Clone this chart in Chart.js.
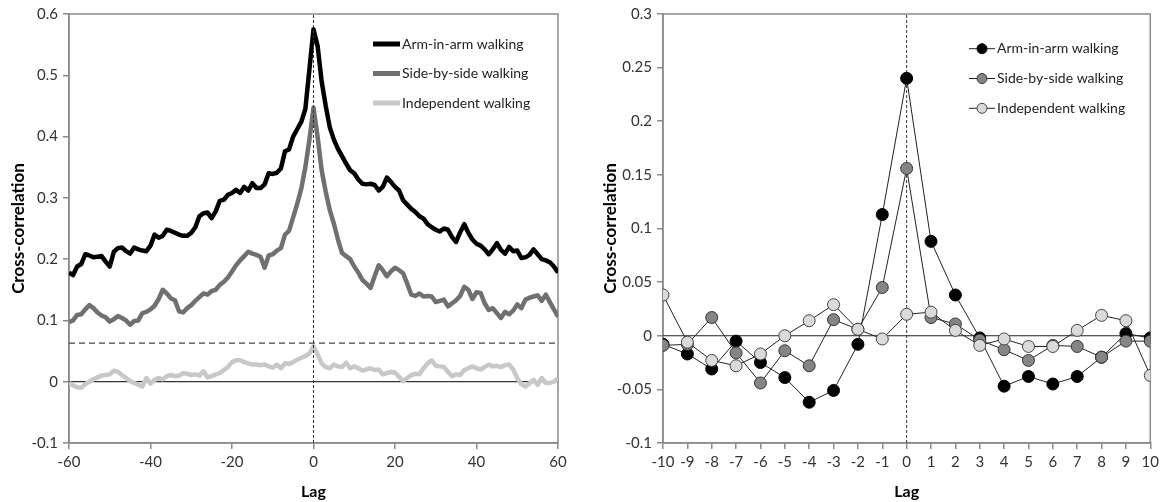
<!DOCTYPE html>
<html>
<head>
<meta charset="utf-8">
<script src="https://cdn.jsdelivr.net/npm/chart.js@4.4.1/dist/chart.umd.min.js"></script>
<style>
  html, body { margin: 0; padding: 0; background: #fff; }
  body { width: 1163px; height: 502px; position: relative; overflow: hidden; }
  .box { position: absolute; top: 0; height: 502px; }
  #leftBox { left: 0; width: 580px; }
  #rightBox { left: 590px; width: 573px; }
</style>
</head>
<body>
<div class="box" id="leftBox"><canvas id="lagChart"></canvas></div>
<div class="box" id="rightBox"><canvas id="shortLagChart"></canvas></div>
<script>
// ---- data: left panel (lag -60..60) ----
const lags = Array.from({ length: 121 }, (_, i) => i - 60);

const armInArm = [
  0.178, 0.174, 0.188, 0.192, 0.208, 0.206, 0.203, 0.204, 0.205, 0.196,
  0.188, 0.212, 0.218, 0.219, 0.213, 0.209, 0.219, 0.216, 0.214, 0.213,
  0.222, 0.240, 0.235, 0.238, 0.248, 0.246, 0.243, 0.240, 0.238, 0.238,
  0.243, 0.252, 0.270, 0.275, 0.276, 0.267, 0.278, 0.295, 0.297, 0.305,
  0.308, 0.313, 0.308, 0.318, 0.312, 0.324, 0.316, 0.316, 0.322, 0.340,
  0.339, 0.341, 0.348, 0.376, 0.379, 0.400, 0.412, 0.424, 0.445, 0.510,
  0.575,
  0.548, 0.490, 0.450, 0.415, 0.395, 0.380, 0.368, 0.356, 0.345, 0.340,
  0.330, 0.323, 0.322, 0.323, 0.321, 0.312, 0.318, 0.333, 0.326, 0.318,
  0.312, 0.296, 0.289, 0.282, 0.277, 0.270, 0.266, 0.257, 0.252, 0.248,
  0.245, 0.250, 0.248, 0.236, 0.228, 0.244, 0.257, 0.243, 0.232, 0.225,
  0.222, 0.216, 0.208, 0.216, 0.226, 0.215, 0.209, 0.220, 0.213, 0.214,
  0.202, 0.203, 0.207, 0.216, 0.208, 0.200, 0.198, 0.195, 0.188, 0.178
];

const sideBySide = [
  0.097, 0.100, 0.109, 0.110, 0.118, 0.125, 0.120, 0.113, 0.108, 0.105,
  0.098, 0.102, 0.107, 0.104, 0.100, 0.093, 0.099, 0.100, 0.112, 0.114,
  0.118, 0.124, 0.135, 0.150, 0.144, 0.136, 0.133, 0.115, 0.113, 0.120,
  0.125, 0.132, 0.138, 0.144, 0.142, 0.148, 0.150, 0.158, 0.163, 0.170,
  0.180, 0.190, 0.198, 0.205, 0.212, 0.209, 0.207, 0.204, 0.186, 0.206,
  0.208, 0.214, 0.218, 0.240, 0.246, 0.268, 0.290, 0.315, 0.350, 0.395,
  0.447,
  0.400, 0.345, 0.310, 0.280, 0.258, 0.232, 0.210, 0.205, 0.200, 0.188,
  0.178, 0.166, 0.160, 0.153, 0.172, 0.190, 0.182, 0.172, 0.180, 0.186,
  0.182, 0.177, 0.160, 0.142, 0.140, 0.144, 0.139, 0.140, 0.139, 0.130,
  0.132, 0.134, 0.123, 0.128, 0.133, 0.140, 0.155, 0.150, 0.135, 0.146,
  0.145, 0.128, 0.117, 0.120, 0.112, 0.104, 0.114, 0.110, 0.116, 0.126,
  0.120, 0.134, 0.137, 0.139, 0.141, 0.132, 0.142, 0.130, 0.118, 0.106
];

const independent = [
  -0.002, -0.006, -0.009, -0.010, -0.004, 0.000, 0.004, 0.007, 0.010, 0.011,
  0.012, 0.018, 0.016, 0.011, 0.006, 0.001, -0.002, -0.005, -0.008, 0.006,
  -0.003, 0.003, 0.006, 0.004, 0.009, 0.011, 0.009, 0.010, 0.014, 0.013,
  0.011, 0.012, 0.010, 0.017, 0.007, 0.009, 0.012, 0.014, 0.019, 0.024,
  0.032, 0.035, 0.035, 0.032, 0.030, 0.028, 0.028, 0.027, 0.028, 0.025,
  0.023, 0.028, 0.022, 0.030, 0.029, 0.032, 0.036, 0.039, 0.042, 0.046,
  0.058,
  0.044, 0.030, 0.024, 0.022, 0.028, 0.025, 0.024, 0.031, 0.022, 0.025,
  0.022, 0.018, 0.020, 0.022, 0.019, 0.020, 0.012, 0.014, 0.016, 0.015,
  0.008, 0.001, 0.006, 0.011, 0.013, 0.012, 0.022, 0.030, 0.035, 0.026,
  0.025, 0.024, 0.016, 0.009, 0.012, 0.011, 0.019, 0.022, 0.025, 0.022,
  0.020, 0.024, 0.028, 0.025, 0.026, 0.024, 0.027, 0.028, 0.020, 0.006,
  -0.004, -0.008, -0.003, 0.003, -0.005, 0.006, -0.002, -0.002, 0.000, 0.005
];

const threshold = 0.063;
const leftXTicks = [-60, -40, -20, 0, 20, 40, 60];
const leftYTicks = [-0.1, 0, 0.1, 0.2, 0.3, 0.4, 0.5, 0.6];

// ---- data: right panel (lag -10..10) ----
const shortLags = [-10, -9, -8, -7, -6, -5, -4, -3, -2, -1, 0, 1, 2, 3, 4, 5, 6, 7, 8, 9, 10];
const armInArmShort = [-0.008, -0.017, -0.031, -0.005, -0.025, -0.039, -0.062, -0.051, -0.008, 0.113,
  0.240, 0.088, 0.038, -0.002, -0.047, -0.038, -0.045, -0.038, -0.020, 0.002, -0.002];
const sideBySideShort = [-0.009, -0.008, 0.017, -0.016, -0.044, -0.014, -0.028, 0.015, 0.006, 0.045,
  0.156, 0.017, 0.011, -0.004, -0.013, -0.023, -0.009, -0.010, -0.020, -0.005, -0.005];
const independentShort = [0.038, -0.006, -0.023, -0.028, -0.017, 0.000, 0.014, 0.029, 0.006, -0.003,
  0.020, 0.022, 0.005, -0.009, -0.003, -0.010, -0.010, 0.005, 0.019, 0.014, -0.037];
const rightYTicks = [-0.1, -0.05, 0, 0.05, 0.1, 0.15, 0.2, 0.25, 0.3];

const seriesNames = ['Arm-in-arm walking', 'Side-by-side walking', 'Independent walking'];

Chart.defaults.font.family = 'Lato';
Chart.defaults.font.size = 15;
Chart.defaults.color = '#333';

const toXY = (xs, ys) => xs.map((x, i) => ({ x: x, y: ys[i] }));
const fmt = v => String(Number(v.toFixed(2)));

// plot frame
const framePlugin = {
  id: 'frame',
  beforeDatasetsDraw(chart) {
    const { ctx, chartArea: a } = chart;
    ctx.save();
    ctx.strokeStyle = '#8a8a8a';
    ctx.lineWidth = 1.5;
    ctx.strokeRect(a.left, a.top, a.right - a.left, a.bottom - a.top);
    ctx.restore();
  }
};

// legend inside plot, entries sorted by legendRank
const insideLegend = {
  id: 'insideLegend',
  afterDraw(chart, args, opts) {
    const { ctx, chartArea } = chart;
    const entries = chart.data.datasets
      .filter(d => d.legendRank !== undefined)
      .sort((a, b) => a.legendRank - b.legendRank);
    ctx.save();
    ctx.font = '14px Lato';
    ctx.textBaseline = 'middle';
    entries.forEach((ds, i) => {
      const y = chartArea.top + opts.top + i * opts.gap;
      const x0 = chartArea.left + opts.left;
      ctx.strokeStyle = ds.borderColor;
      ctx.lineWidth = opts.lineWidth;
      ctx.beginPath();
      ctx.moveTo(x0, y);
      ctx.lineTo(x0 + opts.lineLen, y);
      ctx.stroke();
      if (opts.marker) {
        ctx.beginPath();
        ctx.arc(x0 + opts.lineLen / 2, y, opts.marker, 0, Math.PI * 2);
        ctx.fillStyle = ds.pointBackgroundColor;
        ctx.fill();
        ctx.lineWidth = 1;
        ctx.strokeStyle = ds.pointBorderColor;
        ctx.stroke();
      }
      ctx.fillStyle = '#222';
      ctx.fillText(ds.label, x0 + opts.lineLen + opts.textGap, y);
    });
    ctx.restore();
  }
};

function axes(xMin, xMax, xTicks, yMin, yMax, yTicks, yWidth, titlePad) {
  return {
    x: {
      type: 'linear',
      min: xMin,
      max: xMax,
      afterBuildTicks: s => { s.ticks = xTicks.map(v => ({ value: v })); },
      afterFit: s => { s.height = 59; },
      ticks: { color: '#333', padding: 4, maxRotation: 0, autoSkip: false, callback: v => String(v) },
      grid: { drawOnChartArea: false, drawTicks: true, tickLength: 6, tickColor: '#8a8a8a', lineWidth: 1.5 },
      border: { display: true, color: '#8a8a8a', width: 1.5 },
      title: { display: true, text: 'Lag', color: '#000', font: { size: 16, weight: 'bold' }, padding: { top: 0, bottom: 1 } }
    },
    y: {
      min: yMin,
      max: yMax,
      afterBuildTicks: s => { s.ticks = yTicks.map(v => ({ value: v })); },
      afterFit: s => { s.width = yWidth; },
      ticks: { color: '#333', padding: 5, autoSkip: false, callback: v => fmt(v) },
      grid: { drawOnChartArea: false, drawTicks: true, tickLength: 6, tickColor: '#8a8a8a', lineWidth: 1.5 },
      border: { display: true, color: '#8a8a8a', width: 1.5 },
      title: { display: true, text: 'Cross-correlation', color: '#000', font: { size: 17, weight: 'bold' }, padding: { top: titlePad, bottom: 0 } }
    }
  };
}

// ---- left chart ----
new Chart(document.getElementById('lagChart'), {
  type: 'line',
  data: {
    datasets: [
      { label: 'zero-v', data: [{ x: 0, y: -0.1 }, { x: 0, y: 0.6 }], borderColor: '#333', borderWidth: 1, borderDash: [3, 2], pointRadius: 0, order: 0 },
      { label: seriesNames[0], legendRank: 0, data: toXY(lags, armInArm), borderColor: '#000', borderWidth: 4.5, pointRadius: 0, borderJoinStyle: 'round', order: 1 },
      { label: seriesNames[1], legendRank: 1, data: toXY(lags, sideBySide), borderColor: '#707070', borderWidth: 4.5, pointRadius: 0, borderJoinStyle: 'round', order: 2 },
      { label: seriesNames[2], legendRank: 2, data: toXY(lags, independent), borderColor: '#c8c8c8', borderWidth: 4.5, pointRadius: 0, borderJoinStyle: 'round', order: 3 },
      { label: 'threshold', data: [{ x: -60, y: threshold }, { x: 60, y: threshold }], borderColor: '#444', borderWidth: 1.3, borderDash: [6, 4], pointRadius: 0, order: 4 },
      { label: 'zero-h', data: [{ x: -60, y: 0 }, { x: 60, y: 0 }], borderColor: '#000', borderWidth: 1, pointRadius: 0, order: 5 }
    ]
  },
  options: {
    responsive: true,
    maintainAspectRatio: false,
    animation: false,
    layout: { padding: { top: 13, right: 22, left: 0, bottom: 0 } },
    scales: axes(-60, 60, leftXTicks, -0.1, 0.6, leftYTicks, 69, 8),
    plugins: {
      legend: { display: false },
      tooltip: { enabled: false },
      insideLegend: { left: 304, top: 30, gap: 29.5, lineLen: 27, lineWidth: 5, textGap: 2, marker: 0 }
    }
  },
  plugins: [framePlugin, insideLegend]
});

// ---- right chart ----
const markerSet = (fill, border) => ({
  borderColor: '#222', borderWidth: 1, pointRadius: 6, pointBorderWidth: 1,
  pointBackgroundColor: fill, pointBorderColor: border
});

new Chart(document.getElementById('shortLagChart'), {
  type: 'line',
  data: {
    datasets: [
      Object.assign({ label: seriesNames[1], legendRank: 1, data: toXY(shortLags, sideBySideShort), order: 1 }, markerSet('#858585', '#333')),
      Object.assign({ label: seriesNames[0], legendRank: 0, data: toXY(shortLags, armInArmShort), order: 2 }, markerSet('#000', '#000')),
      Object.assign({ label: seriesNames[2], legendRank: 2, data: toXY(shortLags, independentShort), order: 0 }, markerSet('#dadada', '#444')),
      { label: 'zero-v', data: [{ x: 0, y: -0.1 }, { x: 0, y: 0.3 }], borderColor: '#333', borderWidth: 1, borderDash: [3, 2], pointRadius: 0, order: 4 },
      { label: 'zero-h', data: [{ x: -10, y: 0 }, { x: 10, y: 0 }], borderColor: '#222', borderWidth: 1, pointRadius: 0, order: 5 }
    ]
  },
  options: {
    responsive: true,
    maintainAspectRatio: false,
    animation: false,
    layout: { padding: { top: 13, right: 11, left: 0, bottom: 0 } },
    scales: axes(-10, 10, shortLags, -0.1, 0.3, rightYTicks, 73, 10),
    plugins: {
      legend: { display: false },
      tooltip: { enabled: false },
      insideLegend: { left: 306, top: 34.7, gap: 29.8, lineLen: 26, lineWidth: 1, textGap: 2, marker: 5 }
    }
  },
  plugins: [framePlugin, insideLegend]
});
</script>
</body>
</html>
